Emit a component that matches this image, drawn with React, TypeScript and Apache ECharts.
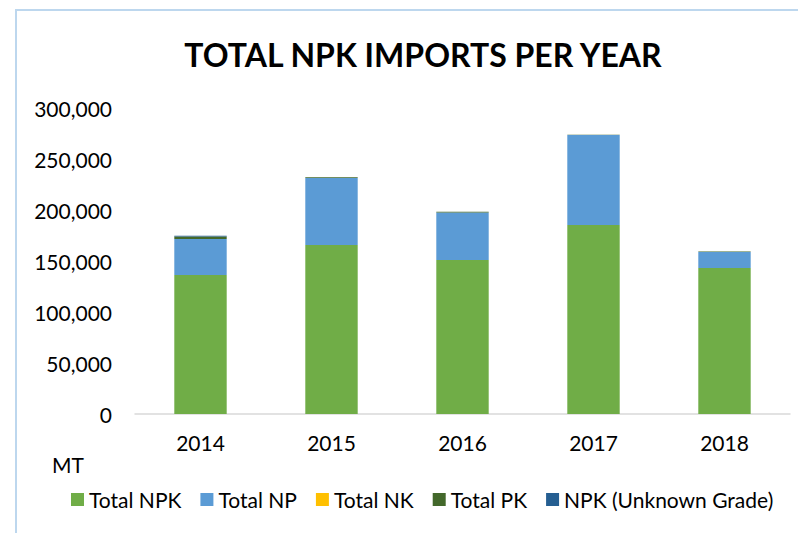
import React, { useEffect, useRef } from "react";
import * as echarts from "echarts";

const years = ["2014", "2015", "2016", "2017", "2018"];
const totalNPK = [136300, 165700, 151000, 185300, 143100];
const totalNP = [35300, 65700, 46500, 88200, 15700];
const totalNK = [0, 0, 0, 0, 0];
const totalPK = [2500, 600, 900, 300, 500];
const npkUnknown = [700, 0, 0, 0, 0];
const yTicks = [0, 50000, 100000, 150000, 200000, 250000, 300000];

const FONT = "Lato, 'Open Sans', sans-serif";

export default function App() {
  const ref = useRef<HTMLDivElement>(null);
  useEffect(() => {
    if (!ref.current) return;
    const chart = echarts.init(ref.current, undefined, { renderer: "svg" });
    const mk = (name: string, data: number[], color: string) => ({
      name,
      type: "bar",
      stack: "total",
      data,
      barWidth: "40%",
      itemStyle: { color },
      emphasis: { disabled: true },
    });
    chart.setOption({
      animation: false,
      backgroundColor: "#ffffff",
      title: {
        text: "TOTAL NPK IMPORTS PER YEAR",
        left: 418,
        textAlign: "center",
        top: 33,
        textStyle: { fontFamily: FONT, fontWeight: "bold", fontSize: 32, color: "#000000" },
      },
      grid: { left: 135, right: 8, top: 108, bottom: 119, containLabel: false },
      xAxis: {
        type: "category",
        data: years,
        axisLine: { lineStyle: { color: "#d9d9d9", width: 1.5 } },
        axisTick: { show: false },
        axisLabel: { fontFamily: FONT, fontSize: 21, color: "#000000", margin: 18 },
      },
      yAxis: {
        type: "value",
        min: yTicks[0],
        max: yTicks[yTicks.length - 1],
        interval: 50000,
        axisLine: { show: false },
        axisTick: { show: false },
        splitLine: { show: false },
        axisLabel: {
          fontFamily: FONT,
          fontSize: 21,
          color: "#000000",
          margin: 23,
          formatter: (v: number) => v.toLocaleString("en-US"),
        },
      },
      legend: {
        left: 66,
        top: 484,
        itemWidth: 13,
        itemHeight: 13,
        itemGap: 19,
        icon: "rect",
        textStyle: { fontFamily: FONT, fontSize: 21, color: "#000000", padding: [0, 0, 0, 0] },
        data: ["Total NPK", "Total NP", "Total NK", "Total PK", "NPK (Unknown Grade)"],
      },
      graphic: [
        {
          type: "rect",
          shape: { x: 16, y: 10, width: 800, height: 600 },
          style: { fill: "none", stroke: "#bdd7ee", lineWidth: 2 },
          silent: true,
        },
        {
          type: "text",
          left: 52,
          top: 454,
          style: { text: "MT", fontFamily: FONT, fontSize: 21, fill: "#000000" },
        },
      ],
      series: [
        mk("Total NPK", totalNPK, "#70ad47"),
        mk("Total NP", totalNP, "#5b9bd5"),
        mk("Total NK", totalNK, "#ffc000"),
        mk("Total PK", totalPK, "#43682b"),
        mk("NPK (Unknown Grade)", npkUnknown, "#255e91"),
      ],
    });
    return () => chart.dispose();
  }, []);
  return (
    <div
      ref={ref}
      style={{ position: "fixed", left: 0, top: 0, width: 798, height: 533, background: "#fff" }}
    />
  );
}
